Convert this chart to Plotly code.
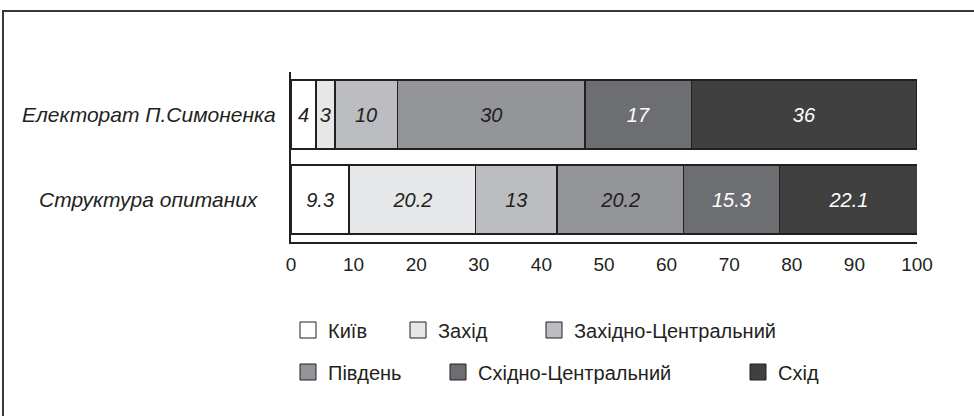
import plotly.graph_objects as go

categories = ["Електорат П.Симоненка", "Структура опитаних"]
regions = ["Київ", "Захід", "Західно-Центральний", "Південь", "Східно-Центральний", "Схід"]
electorate = [4, 3, 10, 30, 17, 36]
respondents = [9.3, 20.2, 13, 20.2, 15.3, 22.1]
value_labels_e = ["4", "3", "10", "30", "17", "36"]
value_labels_r = ["9.3", "20.2", "13", "20.2", "15.3", "22.1"]
x_ticks = [0, 10, 20, 30, 40, 50, 60, 70, 80, 90, 100]

colors = ["#ffffff", "#e6e7e8", "#bcbdc0", "#939598", "#6d6e71", "#404041"]
text_colors = ["#231f20", "#231f20", "#231f20", "#231f20", "#ffffff", "#ffffff"]
FONT = "Liberation Sans, Arial, sans-serif"
INK = "#231f20"

W, H = 974, 416
L, R, T, B = 291, 57, 72, 174
pw, ph = W - L - R, H - T - B

def px(xp):
    return (xp - L) / pw

def py(yp):
    return (H - B - yp) / ph

fig = go.Figure()
for i, reg in enumerate(regions):
    fig.add_trace(go.Bar(
        y=categories, x=[electorate[i], respondents[i]], orientation="h",
        name=reg, marker=dict(color=colors[i], line=dict(color=INK, width=1.5)),
        text=[value_labels_e[i], value_labels_r[i]], texttemplate="%{text}",
        textposition="inside", insidetextanchor="middle", textangle=0,
        textfont=dict(family=FONT, size=20, color=text_colors[i], style="italic"),
        showlegend=False, hoverinfo="skip",
    ))

# legend entries
legend_pos = [(307, 330), (417, 330), (553, 330), (307, 372), (457, 372), (757, 372)]
for i, reg in enumerate(regions):
    lname = "legend" if i == 0 else f"legend{i+1}"
    fig.add_trace(go.Scatter(
        x=[None], y=[None], mode="markers", name=reg, legend=lname,
        marker=dict(symbol="square", size=18, color=colors[i], line=dict(color=INK, width=1)),
        showlegend=True,
    ))

layout_legends = {}
for i, (cx, cy) in enumerate(legend_pos):
    key = "legend" if i == 0 else f"legend{i+1}"
    layout_legends[key] = dict(
        x=px(cx - 19), y=py(cy), xanchor="left", yanchor="middle",
        orientation="h", bgcolor="rgba(0,0,0,0)", borderwidth=0,
        font=dict(family=FONT, size=20, color=INK), itemsizing="trace",
    )

for cat in categories:
    fig.add_annotation(
        x=px(149), xref="paper", y=cat, yref="y", text=cat, showarrow=False,
        xanchor="center", yanchor="middle",
        font=dict(family=FONT, size=21, color=INK, style="italic"),
    )

# outer frame
fig.add_shape(type="rect", xref="paper", yref="paper",
              x0=px(3), x1=px(990), y0=py(11), y1=py(430),
              line=dict(color="#3a3a3a", width=2), fillcolor="rgba(0,0,0,0)", layer="below")

fig.update_layout(
    width=W, height=H, margin=dict(l=L, r=R, t=T, b=B),
    paper_bgcolor="white", plot_bgcolor="white",
    barmode="stack", bargap=0.188,
    uniformtext=dict(mode="show", minsize=20),
    font=dict(family=FONT, color=INK),
    xaxis=dict(range=[0, 100], tickvals=x_ticks, showgrid=False, zeroline=False,
               showline=True, linecolor=INK, linewidth=1.5, ticks="",
               tickfont=dict(family=FONT, size=19, color=INK), ticklabelstandoff=4,
               fixedrange=True),
    yaxis=dict(autorange="reversed", showticklabels=False, showgrid=False,
               zeroline=False, showline=True, linecolor=INK, linewidth=1.5, ticks="",
               fixedrange=True),
    **layout_legends,
)

fig.write_html("out.html", config={"displayModeBar": False},
               post_script="document.body.style.margin='0';document.body.style.overflow='hidden';")
